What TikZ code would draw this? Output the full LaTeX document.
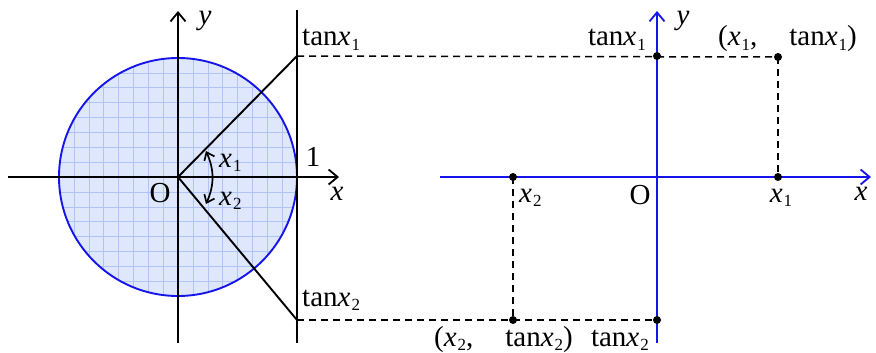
\documentclass[tikz,border=0pt]{standalone}
\usepackage{fontspec}
\setmainfont{Liberation Serif}
\usetikzlibrary{arrows.meta,calc}
\definecolor{axblue}{RGB}{20,20,235}
\definecolor{diskfill}{RGB}{222,231,251}
\definecolor{gridblue}{RGB}{175,195,244}
\newcommand{\vx}[1]{\textit{x}\kern1pt\raisebox{-4.5pt}{\fontsize{17}{17}\selectfont #1}}
\begin{document}
\begin{tikzpicture}[x=1pt,y=-1pt,
  lbl/.style={font=\fontsize{29}{32}\selectfont, inner sep=0pt},
  blk/.style={line width=1.9pt, black},
  blu/.style={line width=1.9pt, axblue},
  axarrow/.style={-{Straight Barb[length=9pt,width=15pt,line width=1.8pt]}},
  dsh/.style={line width=1.5pt, dash pattern=on 7pt off 5pt},
  dot/.style={circle, fill=black, inner sep=0pt, minimum size=8pt}]
\useasboundingbox (0,0) rectangle (876,353);
% ---------- left figure ----------
\coordinate (O1) at (178,177);
\begin{scope}
  \clip (O1) circle (119);
  \fill[diskfill] (O1) circle (119);
  \foreach \k in {-8,...,8} {
    \draw[gridblue, line width=0.5pt] ($(O1)+(\k*14.875,-120)$) -- ($(O1)+(\k*14.875,120)$);
    \draw[gridblue, line width=0.5pt] ($(O1)+(-120,\k*14.875)$) -- ($(O1)+(120,\k*14.875)$);
  }
\end{scope}
\draw[line width=1.9pt, axblue] (O1) circle (119);
\coordinate (xl0) at (8,177);
\coordinate (xl1) at (339,177);
\coordinate (yl0) at (178,343);
\coordinate (yl1) at (178,11);
\draw[blk, axarrow] (xl0) -- (xl1);
\draw[blk, axarrow] (yl0) -- (yl1);
\coordinate (tv0) at (297,343);
\coordinate (tv1) at (297,10);
\draw[blk] (tv0) -- (tv1);
\coordinate (T1) at (297,56);
\coordinate (T2) at (297,320);
\draw[blk] (O1) -- (T1);
\draw[blk] (O1) -- (T2);
\coordinate (a1) at (206,151);
\coordinate (a2) at (206,204);
\draw[line width=1.7pt, {Straight Barb[length=7pt,width=11pt]}-{Straight Barb[length=7pt,width=11pt]}] (a1) to[bend left=24] (a2);
\node[lbl, anchor=base west] (lx1) at (219,167) {\vx{1}};
\node[lbl, anchor=base west] (lx2) at (219,205) {\vx{2}};
\node[lbl] (lO) at (160,193) {O};
\node[lbl] (lone) at (313,157) {1};
\node[lbl] (lxx) at (337,194) {\textit{x}};
\node[lbl] (lyy) at (205,21) {\textit{y}};
\node[lbl, anchor=base west] (lt1) at (302,46) {tan\vx{1}};
\node[lbl, anchor=base west] (lt2) at (302,306) {tan\vx{2}};
% ---------- right figure ----------
\coordinate (O2) at (657,177);
\coordinate (xr0) at (440,177);
\coordinate (xr1) at (871,177);
\coordinate (yr0) at (657,343);
\coordinate (yr1) at (657,11);
\coordinate (P1y) at (657,56);
\coordinate (P1) at (778,57);
\coordinate (P1x) at (778,177);
\coordinate (P2x) at (513,177);
\coordinate (P2) at (513,320);
\coordinate (P2y) at (657,320);
\draw[dsh] (T1) -- (P1);
\draw[dsh] (P1) -- (P1x);
\draw[dsh] (T2) -- (P2y);
\draw[dsh] (P2x) -- (P2);
\draw[blu, axarrow] (xr0) -- (xr1);
\draw[blu, axarrow] (yr0) -- (yr1);
\foreach \p in {P1y,P1,P1x,P2x,P2,P2y} \node[dot] (d\p) at (\p) {};
\node[lbl, anchor=base east] (rt1) at (646,46) {tan\vx{1}};
\node[lbl] (ryy) at (683,21) {\textit{y}};
\node[lbl, anchor=base west] (rp1) at (718,46) {(\vx{1},\hspace{1.1em}tan\vx{1})};
\node[lbl, anchor=base east] (rx2) at (573,346) {};
\node[lbl, anchor=base west] (rx2l) at (519,202) {\vx{2}};
\node[lbl] (rO) at (640,195) {O};
\node[lbl, anchor=base] (rx1) at (781,202) {\vx{1}};
\node[lbl] (rxx) at (861,194) {\textit{x}};
\node[lbl, anchor=base east] (rp2) at (573,346) {(\vx{2},\hspace{1.1em}tan\vx{2})};
\node[lbl, anchor=base east] (rt2) at (649,346) {tan\vx{2}};
\end{tikzpicture}
\end{document}
